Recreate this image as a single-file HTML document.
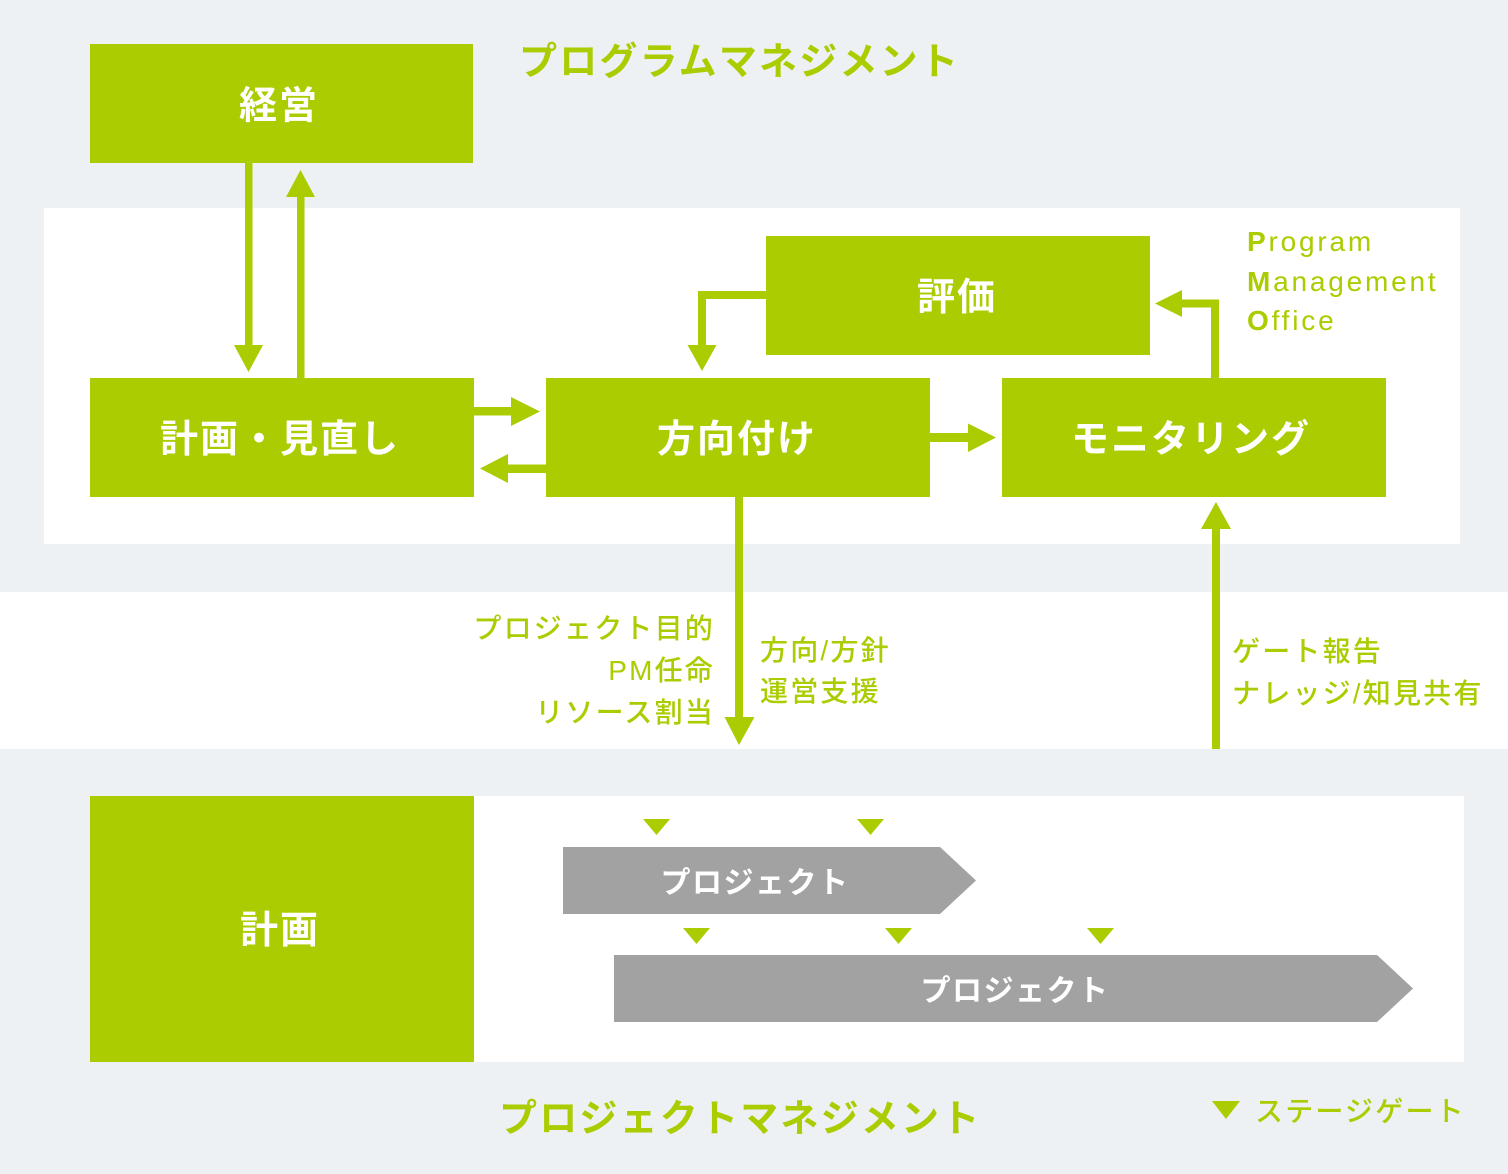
<!DOCTYPE html>
<html><head><meta charset="utf-8">
<style>
html,body{margin:0;padding:0;background:#edf1f4;}
svg{display:block;}
.jp{font-family:"Liberation Sans","Noto Sans CJK JP",sans-serif;}
.w{fill:#ffffff;font-weight:700;}
.g{fill:#aacc00;}
.lbl{font-size:38px;font-weight:700;letter-spacing:2px;}
.mid{font-size:28px;font-weight:500;letter-spacing:2.2px;fill:#aacc00;}
.en{font-family:"Liberation Sans","DejaVu Sans",sans-serif;font-size:28px;fill:#aacc00;letter-spacing:2.8px;}
</style></head>
<body>
<svg width="1508" height="1174" viewBox="0 0 1508 1174" xmlns="http://www.w3.org/2000/svg">
  <rect x="0" y="0" width="1508" height="1174" fill="#edf1f4"/>
  <rect x="44" y="208" width="1416" height="336" fill="#ffffff"/>
  <rect x="0" y="592" width="1508" height="157" fill="#ffffff"/>
  <rect x="474" y="796" width="990" height="266" fill="#ffffff"/>

  <g fill="#aacc00">
    <rect x="90" y="44" width="383" height="119"/>
    <rect x="90" y="378" width="384" height="119"/>
    <rect x="546" y="378" width="384" height="119"/>
    <rect x="1002" y="378" width="384" height="119"/>
    <rect x="766" y="236" width="384" height="119"/>
    <rect x="90" y="796" width="384" height="266"/>
  </g>

  <g fill="#aacc00">
    <rect x="245" y="163" width="7.5" height="184"/>
    <polygon points="234,345 263,345 248.5,372"/>
    <rect x="297" y="195" width="7.5" height="183"/>
    <polygon points="286,197 315,197 300.5,170"/>
    <rect x="474" y="407" width="39" height="8.5"/>
    <polygon points="511,397 511,426 540,411.5"/>
    <rect x="506" y="464.5" width="40" height="8.5"/>
    <polygon points="508,454 508,483 480,468.5"/>
    <rect x="930" y="433" width="40" height="9"/>
    <polygon points="968,423.5 968,452 996,437.5"/>
    <rect x="698" y="291" width="68" height="8"/>
    <rect x="698" y="291" width="8" height="56"/>
    <polygon points="687.5,345 716.5,345 702,371"/>
    <rect x="1211" y="299.5" width="8" height="79"/>
    <rect x="1180" y="299.5" width="39" height="8"/>
    <polygon points="1182,290 1182,317 1155,303.5"/>
    <rect x="735" y="497" width="8" height="222"/>
    <polygon points="724.5,717 754.5,717 739,745"/>
    <rect x="1212" y="528" width="8" height="221"/>
    <polygon points="1201,529 1231,529 1216,502"/>
  </g>

  <polygon points="563,847 940,847 976,880.5 940,914 563,914" fill="#a2a2a2"/>
  <polygon points="614,955 1377,955 1413,988.5 1377,1022 614,1022" fill="#a2a2a2"/>

  <g fill="#aacc00">
    <polygon points="643,819 670,819 656.5,835"/>
    <polygon points="857,819 884,819 870.5,835"/>
    <polygon points="683,928 710,928 696.5,944"/>
    <polygon points="885,928 912,928 898.5,944"/>
    <polygon points="1087,928 1114,928 1100.5,944"/>
    <polygon points="1212,1101 1240,1101 1226,1119"/>
  </g>

  <g class="jp w lbl" text-anchor="middle">
    <text x="279" y="118.5">経営</text>
    <text x="280" y="452">計画・見直し</text>
    <text x="737" y="452">方向付け</text>
    <text x="1191" y="452">モニタリング</text>
    <text x="957" y="310">評価</text>
    <text x="280" y="943">計画</text>
  </g>
  <g class="jp w" text-anchor="middle" style="font-size:30px;font-weight:700;letter-spacing:1.5px;">
    <text x="755" y="893">プロジェクト</text>
    <text x="1015" y="1001">プロジェクト</text>
  </g>

  <g class="jp g" style="font-size:38px;font-weight:700;letter-spacing:2.2px;">
    <text x="519" y="74.5">プログラムマネジメント</text>
    <text x="499" y="1131.5">プロジェクトマネジメント</text>
  </g>

  <text class="jp mid" x="1255" y="1121">ステージゲート</text>

  <g class="jp mid" text-anchor="end">
    <text x="715" y="638">プロジェクト目的</text>
    <text x="715" y="680">PM任命</text>
    <text x="715" y="722">リソース割当</text>
  </g>
  <g class="jp mid">
    <text x="760" y="660">方向/方針</text>
    <text x="760" y="701">運営支援</text>
    <text x="1232" y="661">ゲート報告</text>
    <text x="1232" y="703">ナレッジ/知見共有</text>
  </g>

  <text class="en" x="1247" y="251"><tspan font-weight="700">P</tspan>rogram</text>
  <text class="en" x="1247" y="291"><tspan font-weight="700">M</tspan>anagement</text>
  <text class="en" x="1247" y="330"><tspan font-weight="700">O</tspan>ffice</text>
</svg>
</body></html>
